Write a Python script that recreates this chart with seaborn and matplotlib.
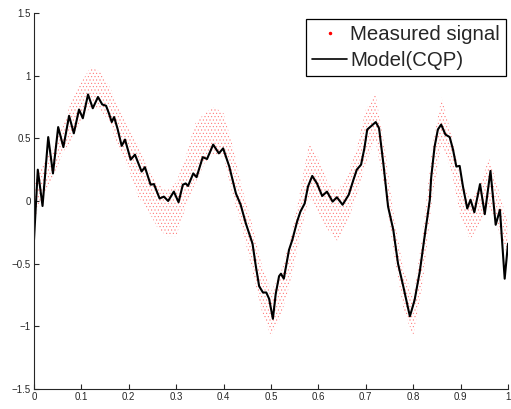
import matplotlib
matplotlib.use("Agg")
import matplotlib.pyplot as plt
from matplotlib.lines import Line2D
import seaborn as sns

# ---- Model (CQP) curve ----
model_x = [0.000, 0.008, 0.018, 0.030, 0.040, 0.051, 0.062, 0.074, 0.084, 0.095,
           0.103, 0.114, 0.124, 0.135, 0.144, 0.152, 0.158, 0.164, 0.169, 0.176,
           0.185, 0.192, 0.204, 0.213, 0.227, 0.234, 0.246, 0.253, 0.265, 0.274,
           0.283, 0.295, 0.305, 0.314, 0.320, 0.325, 0.336, 0.343, 0.356, 0.365,
           0.378, 0.390, 0.399, 0.412, 0.426, 0.436, 0.447, 0.454, 0.461, 0.468,
           0.475, 0.483, 0.490, 0.496, 0.504, 0.510, 0.517, 0.521, 0.527, 0.538,
           0.545, 0.555, 0.562, 0.571, 0.578, 0.587, 0.597, 0.608, 0.618, 0.630,
           0.639, 0.651, 0.664, 0.674, 0.681, 0.690, 0.697, 0.703, 0.712, 0.721,
           0.728, 0.737, 0.747, 0.758, 0.768, 0.779, 0.793, 0.803, 0.814, 0.824,
           0.831, 0.835, 0.838, 0.845, 0.852, 0.859, 0.868, 0.877, 0.884, 0.891,
           0.898, 0.905, 0.914, 0.921, 0.929, 0.941, 0.951, 0.963, 0.974, 0.983,
           0.993, 1.000]
model_y = [-0.31, 0.25, -0.04, 0.51, 0.22, 0.59, 0.43, 0.68, 0.54, 0.73,
           0.66, 0.85, 0.74, 0.83, 0.77, 0.76, 0.70, 0.63, 0.67, 0.58,
           0.44, 0.49, 0.33, 0.37, 0.235, 0.27, 0.13, 0.135, 0.02, 0.035,
           0.00, 0.075, -0.01, 0.13, 0.14, 0.12, 0.22, 0.19, 0.35, 0.335,
           0.45, 0.38, 0.42, 0.275, 0.06, -0.03, -0.18, -0.26, -0.34, -0.52,
           -0.68, -0.73, -0.73, -0.78, -0.94, -0.74, -0.60, -0.58, -0.62, -0.39,
           -0.31, -0.165, -0.085, -0.02, 0.115, 0.20, 0.14, 0.04, 0.075, -0.005,
           0.03, -0.03, 0.05, 0.17, 0.25, 0.29, 0.42, 0.57, 0.60, 0.63,
           0.58, 0.30, -0.045, -0.23, -0.50, -0.68, -0.92, -0.79, -0.56, -0.285,
           -0.10, 0.01, 0.19, 0.43, 0.57, 0.61, 0.53, 0.51, 0.41, 0.275,
           0.28, 0.115, -0.06, 0.01, -0.09, 0.135, -0.105, 0.24, -0.19, -0.07,
           -0.62, -0.34]

# ---- Measured signal: extent of the cloud of samples ----
meas_x = [0.00, 0.02, 0.04, 0.06, 0.08, 0.10, 0.12, 0.14, 0.16, 0.18,
          0.20, 0.22, 0.24, 0.26, 0.28, 0.30, 0.32, 0.34, 0.36, 0.38,
          0.40, 0.42, 0.44, 0.46, 0.48, 0.50, 0.52, 0.54, 0.56, 0.58,
          0.60, 0.62, 0.64, 0.66, 0.68, 0.70, 0.72, 0.74, 0.76, 0.78,
          0.80, 0.82, 0.84, 0.86, 0.88, 0.90, 0.92, 0.94, 0.96, 0.98, 1.00]
meas_upper = [0.15, 0.30, 0.42, 0.59, 0.81, 0.95, 1.07, 1.03, 0.91, 0.73,
              0.57, 0.45, 0.25, 0.14, 0.08, 0.15, 0.35, 0.62, 0.70, 0.75,
              0.70, 0.43, 0.09, -0.18, -0.50, -0.72, -0.58, -0.31, 0.05, 0.46,
              0.35, 0.14, 0.08, 0.19, 0.41, 0.73, 0.86, 0.43, -0.13, -0.55,
              -0.77, -0.26, 0.43, 0.83, 0.54, 0.17, 0.01, 0.11, 0.35, 0.09, -0.18]
meas_lower = [-0.15, 0.05, 0.18, 0.38, 0.49, 0.65, 0.75, 0.73, 0.62, 0.41,
              0.25, 0.03, -0.07, -0.21, -0.28, -0.28, -0.05, 0.14, 0.30, 0.38,
              0.35, 0.03, -0.23, -0.55, -0.87, -1.08, -0.93, -0.66, -0.30, 0.03,
              -0.10, -0.23, -0.32, -0.18, 0.03, 0.30, 0.49, 0.09, -0.45, -0.87,
              -1.08, -0.66, 0.01, 0.46, 0.25, -0.13, -0.31, -0.18, -0.05, -0.23, -0.45]

x_ticks = [0, 0.1, 0.2, 0.3, 0.4, 0.5, 0.6, 0.7, 0.8, 0.9, 1]
x_tick_labels = ["0", "0.1", "0.2", "0.3", "0.4", "0.5", "0.6", "0.7", "0.8", "0.9", "1"]
y_ticks = [-1.5, -1, -0.5, 0, 0.5, 1, 1.5]
y_tick_labels = ["\u22121.5", "\u22121", "\u22120.5", "0", "0.5", "1", "1.5"]
legend_labels = ["Measured signal", "Model(CQP)"]

sns.set_style("ticks")
plt.rcParams["font.family"] = ["Liberation Sans", "DejaVu Sans"]
plt.rcParams["hatch.linewidth"] = 0.35
plt.rcParams["axes.linewidth"] = 0.8

fig = plt.figure(figsize=(5.11, 4.09), dpi=100)
ax = fig.add_axes([34 / 511, 20 / 409, 474 / 511, 376 / 409])

ax.fill_between(meas_x, meas_lower, meas_upper, facecolor="none",
                edgecolor="#ff6a6a", hatch=".....", linewidth=0)
sns.lineplot(x=model_x, y=model_y, color="black", linewidth=1.5, ax=ax,
             sort=False, estimator=None, legend=False)

ax.set_xlim(0, 1)
ax.set_ylim(-1.5, 1.5)
ax.set_xticks(x_ticks)
ax.set_xticklabels(x_tick_labels)
ax.set_yticks(y_ticks)
ax.set_yticklabels(y_tick_labels)
ax.tick_params(direction="in", length=3.5, width=0.8, labelsize=7,
               colors="#262626", pad=2.5)
for s in ("top", "right"):
    ax.spines[s].set_visible(False)
for s in ("left", "bottom"):
    ax.spines[s].set_color("#262626")
ax.set_xlabel("")
ax.set_ylabel("")

handles = [Line2D([], [], marker=".", markersize=3, color="red", linestyle="None"),
           Line2D([], [], color="black", linewidth=1.2)]
leg = ax.legend(handles, legend_labels, loc="upper right",
                bbox_to_anchor=((506 - 34) / 474, (389 - 18.7) / 376),
                borderaxespad=0, fontsize=14.7, frameon=True, fancybox=False,
                framealpha=1, edgecolor="black", handlelength=1.7,
                handletextpad=0.15, borderpad=0.3, labelspacing=0.35)
leg.get_frame().set_linewidth(0.9)

fig.savefig("out.png", dpi=100)
